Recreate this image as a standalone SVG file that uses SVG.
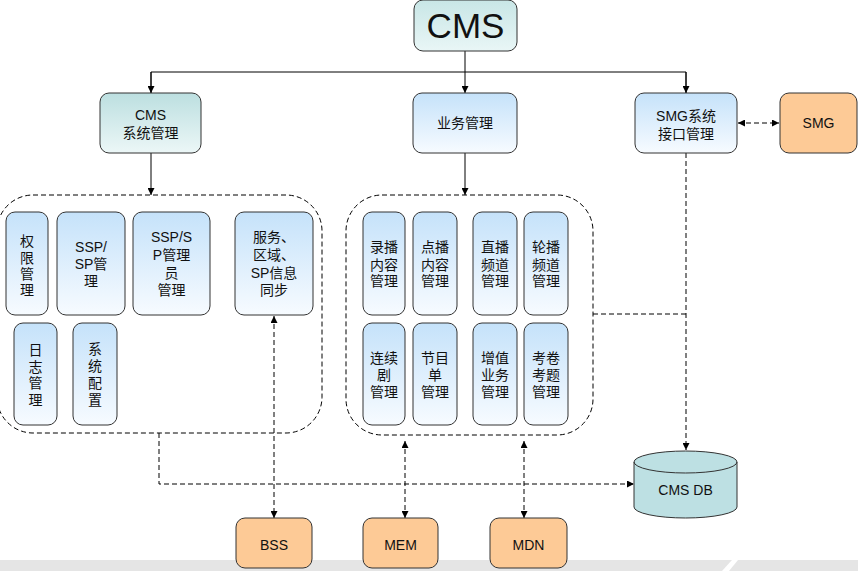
<svg xmlns="http://www.w3.org/2000/svg" width="858" height="571" viewBox="0 0 858 571">
<style>
text{font-family:"Liberation Sans","Noto Sans CJK SC",sans-serif;fill:#111;text-anchor:middle}
.t13{font-size:14px}
.t14{font-size:14px}
.node{stroke:#333;stroke-width:1}
.blue{fill:url(#blueGrad)}
.teal{fill:url(#tealGrad)}
.org{fill:#fdca96}
.ln{fill:none;stroke:#000;stroke-width:1}
.dash{fill:none;stroke:#000;stroke-width:1;stroke-dasharray:5 3}
.cont{fill:none;stroke:#000;stroke-width:1;stroke-dasharray:5 3}
</style>
<defs>
<linearGradient id="blueGrad" x1="0" y1="0" x2="0" y2="1">
<stop offset="0" stop-color="#c5e2fa"/>
<stop offset="1" stop-color="#f7fbff"/>
</linearGradient>
<linearGradient id="tealGrad" x1="0" y1="0" x2="0" y2="1">
<stop offset="0" stop-color="#bcdfe0"/>
<stop offset="1" stop-color="#ecf7f7"/>
</linearGradient>
<linearGradient id="cmsGrad" x1="0" y1="0" x2="0" y2="1">
<stop offset="0" stop-color="#c8e6e6"/>
<stop offset="1" stop-color="#e9f6f6"/>
</linearGradient>
<marker id="arr" viewBox="0 0 10 10" refX="10" refY="5" markerWidth="7" markerHeight="7" markerUnits="userSpaceOnUse" orient="auto-start-reverse">
<path d="M0,0 L10,5 L0,10 Z" fill="#000"/>
</marker>
</defs>

<g id="background">
<rect x="0" y="560" width="858" height="11" fill="#e5e5e5"/>
<polygon points="732,560 738,560 729,571 722,571" fill="#ffffff"/>
</g>

<g id="containers">
<rect id="cms-sys-container" x="-3" y="195" width="325" height="238" rx="36" ry="36" class="cont"/>
<rect id="biz-container" x="346" y="195" width="247" height="240" rx="36" ry="36" class="cont"/>
</g>

<g id="connectors">
<line x1="465" y1="50" x2="465" y2="93" class="ln" marker-end="url(#arr)"/>
<polyline points="151,93 151,72 686,72 686,93" class="ln"/>
<line x1="151" y1="72" x2="151" y2="93" class="ln" marker-end="url(#arr)"/>
<line x1="686" y1="72" x2="686" y2="93" class="ln" marker-end="url(#arr)"/>
<line x1="151" y1="153" x2="151" y2="195" class="ln" marker-end="url(#arr)"/>
<line x1="465" y1="153" x2="465" y2="195" class="ln" marker-end="url(#arr)"/>
<line x1="738" y1="123" x2="779" y2="123" class="dash" marker-start="url(#arr)" marker-end="url(#arr)"/>
<line x1="686" y1="153" x2="686" y2="450" class="dash" marker-end="url(#arr)"/>
<line x1="593" y1="314" x2="686" y2="314" class="dash"/>
<polyline points="159,433 159,484 634,484" class="dash" marker-end="url(#arr)"/>
<line x1="274" y1="316" x2="274" y2="518" class="dash" marker-start="url(#arr)" marker-end="url(#arr)"/>
<line x1="405" y1="441" x2="405" y2="518" class="dash" marker-start="url(#arr)" marker-end="url(#arr)"/>
<line x1="524" y1="441" x2="524" y2="518" class="dash" marker-start="url(#arr)" marker-end="url(#arr)"/>
</g>

<g id="cms">
<rect x="414" y="0" width="103" height="51" rx="9" class="node" fill="url(#cmsGrad)"/>
<text x="465.5" y="38" style="font-size:35px">CMS</text>
</g>

<g id="cms-sys-mgmt">
<rect x="100" y="93" width="101" height="60" rx="9" class="node teal"/>
<text x="150.5" y="120" class="t13">CMS</text>
<text x="150.5" y="138" class="t13">系统管理</text>
</g>

<g id="biz-mgmt">
<rect x="413" y="93" width="104" height="60" rx="9" class="node blue"/>
<text x="465" y="128" class="t13">业务管理</text>
</g>

<g id="smg-if-mgmt">
<rect x="635" y="93" width="102" height="60" rx="9" class="node blue"/>
<text x="686" y="121" class="t13">SMG系统</text>
<text x="686" y="139" class="t13">接口管理</text>
</g>

<g id="smg">
<rect x="780" y="93" width="77" height="60" rx="9" class="node org"/>
<text x="818.5" y="128" class="t14">SMG</text>
</g>

<g id="perm-mgmt">
<rect x="6" y="212" width="42" height="103" rx="9" class="node blue"/>
<text x="27" y="246" class="t14">权</text>
<text x="27" y="263" class="t14">限</text>
<text x="27" y="279" class="t14">管</text>
<text x="27" y="295" class="t14">理</text>
</g>

<g id="ssp-sp-mgmt">
<rect x="57" y="212" width="68" height="103" rx="9" class="node blue"/>
<text x="91" y="252" class="t14">SSP/</text>
<text x="91" y="269" class="t14">SP管</text>
<text x="91" y="286" class="t14">理</text>
</g>

<g id="ssp-sp-admin-mgmt">
<rect x="133" y="212" width="77" height="103" rx="9" class="node blue"/>
<text x="171.5" y="242" class="t14">SSP/S</text>
<text x="171.5" y="260" class="t14">P管理</text>
<text x="171.5" y="278" class="t14">员</text>
<text x="171.5" y="295" class="t14">管理</text>
</g>

<g id="sync">
<rect x="235" y="212" width="78" height="103" rx="9" class="node blue"/>
<text x="274" y="242" class="t14">服务、</text>
<text x="274" y="260" class="t14">区域、</text>
<text x="274" y="278" class="t14">SP信息</text>
<text x="274" y="295" class="t14">同步</text>
</g>

<g id="log-mgmt">
<rect x="14" y="323" width="43" height="102" rx="9" class="node blue"/>
<text x="35.5" y="355" class="t14">日</text>
<text x="35.5" y="372" class="t14">志</text>
<text x="35.5" y="388" class="t14">管</text>
<text x="35.5" y="405" class="t14">理</text>
</g>

<g id="sys-config">
<rect x="73" y="323" width="44" height="102" rx="9" class="node blue"/>
<text x="95" y="354" class="t14">系</text>
<text x="95" y="371" class="t14">统</text>
<text x="95" y="388" class="t14">配</text>
<text x="95" y="405" class="t14">置</text>
</g>

<g id="rec-content">
<rect x="363" y="212" width="42" height="103" rx="9" class="node blue"/>
<text x="384" y="252" class="t14">录播</text>
<text x="384" y="270" class="t14">内容</text>
<text x="384" y="286" class="t14">管理</text>
</g>

<g id="vod-content">
<rect x="413" y="212" width="44" height="103" rx="9" class="node blue"/>
<text x="435" y="252" class="t14">点播</text>
<text x="435" y="270" class="t14">内容</text>
<text x="435" y="286" class="t14">管理</text>
</g>

<g id="live-channel">
<rect x="473" y="212" width="44" height="103" rx="9" class="node blue"/>
<text x="495" y="252" class="t14">直播</text>
<text x="495" y="270" class="t14">频道</text>
<text x="495" y="286" class="t14">管理</text>
</g>

<g id="carousel-channel">
<rect x="524" y="212" width="44" height="103" rx="9" class="node blue"/>
<text x="546" y="252" class="t14">轮播</text>
<text x="546" y="270" class="t14">频道</text>
<text x="546" y="286" class="t14">管理</text>
</g>

<g id="series-mgmt">
<rect x="363" y="323" width="42" height="102" rx="9" class="node blue"/>
<text x="384" y="363" class="t14">连续</text>
<text x="384" y="380" class="t14">剧</text>
<text x="384" y="397" class="t14">管理</text>
</g>

<g id="schedule-mgmt">
<rect x="413" y="323" width="44" height="102" rx="9" class="node blue"/>
<text x="435" y="363" class="t14">节目</text>
<text x="435" y="380" class="t14">单</text>
<text x="435" y="397" class="t14">管理</text>
</g>

<g id="vas-mgmt">
<rect x="473" y="323" width="44" height="102" rx="9" class="node blue"/>
<text x="495" y="363" class="t14">增值</text>
<text x="495" y="380" class="t14">业务</text>
<text x="495" y="397" class="t14">管理</text>
</g>

<g id="exam-mgmt">
<rect x="524" y="323" width="44" height="102" rx="9" class="node blue"/>
<text x="546" y="363" class="t14">考卷</text>
<text x="546" y="380" class="t14">考题</text>
<text x="546" y="397" class="t14">管理</text>
</g>

<g id="cms-db">
<path d="M634,462 A51.5,11 0 0 1 737,462 L737,507 A51.5,11 0 0 1 634,507 Z" fill="#bde0e3" stroke="#333" stroke-width="1"/>
<path d="M634,462 A51.5,11 0 0 0 737,462" fill="none" stroke="#333" stroke-width="1"/>
<text x="685.5" y="495" class="t14">CMS DB</text>
</g>

<g id="bss">
<rect x="236" y="518" width="76" height="50" rx="9" class="node org"/>
<text x="274" y="550" class="t14">BSS</text>
</g>

<g id="mem">
<rect x="363" y="518" width="75" height="50" rx="9" class="node org"/>
<text x="400.5" y="550" class="t14">MEM</text>
</g>

<g id="mdn">
<rect x="490" y="518" width="77" height="50" rx="9" class="node org"/>
<text x="528.5" y="550" class="t14">MDN</text>
</g>
</svg>
